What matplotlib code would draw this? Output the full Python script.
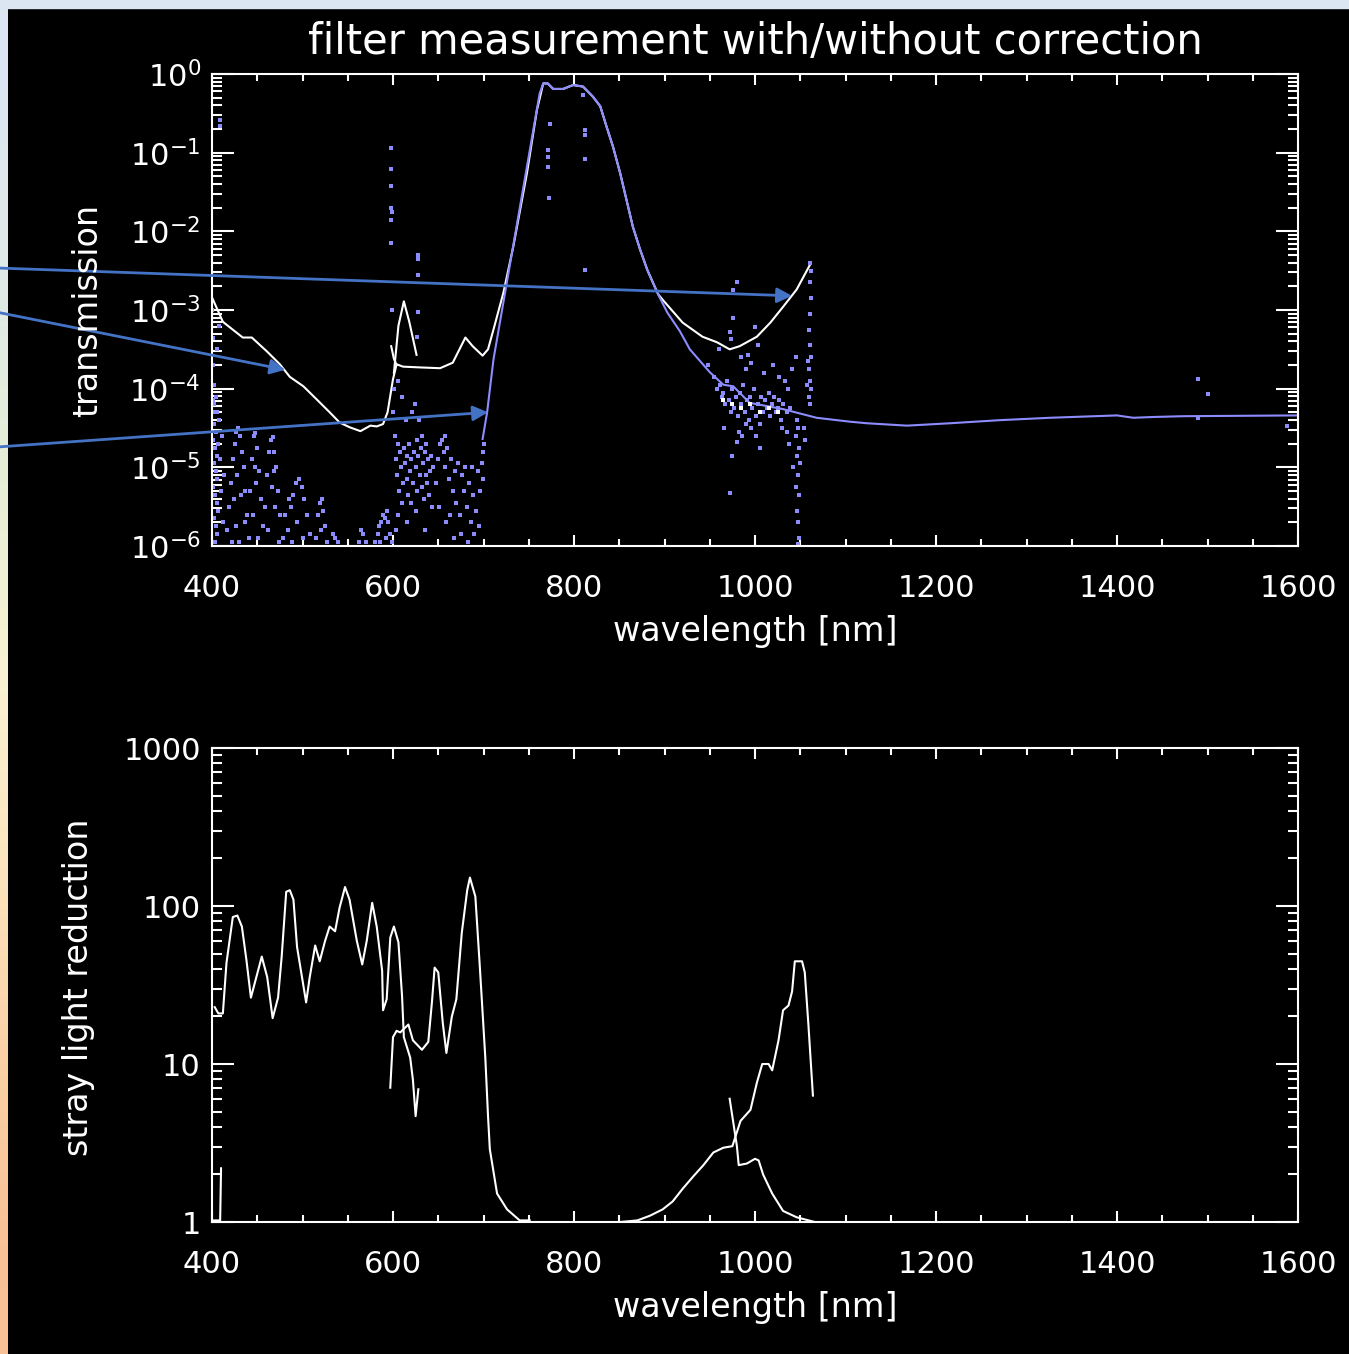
import numpy as np
import matplotlib
matplotlib.use("Agg")
import matplotlib.pyplot as plt
from matplotlib.ticker import MultipleLocator, LogLocator, NullFormatter, FixedLocator, FixedFormatter

plt.rcParams['font.family'] = ['DejaVu Sans']
plt.rcParams['mathtext.fontset'] = 'dejavusans'

# ---- top panel: transmission, log10 values ----
# measured (uncorrected) curve, white
white_nm = [400, 412, 434, 444, 461, 475, 486, 501, 516, 530, 541, 552, 564, 575, 582, 589,
            594, 600, 604, 611, 630, 652, 666, 680, 688, 699, 705, 711, 722, 733, 748, 759,
            766, 771, 777, 788, 799, 810, 821, 829, 836, 843, 851, 858, 865, 873, 881, 893,
            898, 920, 942, 958, 972, 983, 1002, 1017, 1031, 1046, 1061]
white_exp = [-2.84, -3.15, -3.35, -3.35, -3.53, -3.69, -3.85, -3.97, -4.14, -4.30, -4.43, -4.49,
             -4.54, -4.47, -4.48, -4.45, -4.30, -3.88, -3.69, -3.72, -3.73, -3.74, -3.67, -3.35,
             -3.46, -3.58, -3.50, -3.25, -2.78, -2.19, -1.26, -0.46, -0.12, -0.12, -0.19, -0.19,
             -0.14, -0.16, -0.29, -0.41, -0.67, -0.92, -1.26, -1.60, -1.94, -2.23, -2.49, -2.80,
             -2.87, -3.16, -3.34, -3.41, -3.50, -3.46, -3.34, -3.16, -2.96, -2.74, -2.42]
# short extra pieces of the white curve near 600 nm
white_b_nm = [598, 601, 604]
white_b_exp = [-3.46, -3.62, -3.70]
white_c_nm = [601, 606, 612, 618, 626]
white_c_exp = [-3.80, -3.20, -2.89, -3.15, -3.57]

# corrected curve, blue
blue_nm = [699, 704, 711, 762, 766, 771, 777, 788, 799, 810, 821, 829, 836, 843, 851, 858,
           865, 873, 881, 892, 903, 917, 928, 950, 965, 976, 994, 1031, 1068, 1105, 1124,
           1168, 1215, 1271, 1326, 1400, 1418, 1440, 1473, 1600]
blue_exp = [-4.64, -4.30, -3.63, -0.25, -0.12, -0.12, -0.19, -0.19, -0.14, -0.16, -0.29, -0.41,
            -0.67, -0.92, -1.26, -1.60, -1.94, -2.23, -2.49, -2.78, -3.03, -3.27, -3.50, -3.79,
            -3.95, -3.97, -4.18, -4.26, -4.37, -4.42, -4.44, -4.47, -4.44, -4.40, -4.37, -4.34,
            -4.37, -4.36, -4.35, -4.34]

# scattered corrected points (nm, log10 T)
noise_pts = [
    (400.5, -3.0), (401, -3.35), (401.5, -3.7), (402, -3.95), (401, -4.15), (403, -4.3),
    (402, -4.45), (404, -4.55), (401, -4.65), (403, -4.75), (405, -4.85), (402, -4.95),
    (404, -5.05), (406, -5.15), (401, -5.25), (403, -5.35), (405, -5.45), (407, -5.55),
    (402, -5.65), (404, -5.75), (406, -5.85), (403, -5.95), (408, -4.4), (409, -4.9),
    (410, -5.3), (411, -4.6), (412, -5.7), (413, -5.1), (409, -0.58), (409, -0.66),
    (408, -3.2), (406, -3.5), (404, -4.1), (406, -4.3), (402, -4.2), (407, -4.7),
    (417, -5.8), (419, -5.5), (421, -5.2), (423, -4.9), (425, -4.7), (427, -4.55),
    (429, -4.5), (431, -4.6), (433, -4.8), (435, -5.0), (437, -5.3), (439, -5.6),
    (441, -5.9), (424, -5.4), (428, -5.1), (432, -5.35), (426, -5.75), (430, -5.95),
    (436, -5.7), (422, -5.95),
    (442, -5.3), (444, -4.9), (446, -4.6), (448, -4.56), (450, -4.75), (452, -5.05),
    (454, -5.4), (456, -5.75), (445, -5.6), (449, -5.2), (451, -5.9), (447, -5.0),
    (459, -5.5), (461, -5.1), (463, -4.8), (465, -4.65), (467, -4.62), (469, -4.8),
    (471, -5.0), (473, -5.3), (475, -5.6), (462, -5.8), (466, -5.25), (470, -5.5),
    (474, -5.95), (468, -5.05),
    (478, -5.9), (481, -5.6), (484, -5.8), (487, -5.5), (490, -5.35), (493, -5.2),
    (496, -5.15), (499, -5.25), (502, -5.4), (505, -5.6), (508, -5.85), (488, -5.95),
    (494, -5.7), (500, -5.9), (485, -5.4),
    (515, -5.9), (517, -5.6), (519, -5.45), (521, -5.4), (523, -5.55), (525, -5.75),
    (527, -5.95), (534, -5.85), (536, -5.9), (539, -5.95), (520, -5.8),
    (562, -5.95), (565, -5.8), (567, -5.85), (570, -5.95),
    (580, -5.95), (583, -5.85), (585, -5.75), (587, -5.7), (589, -5.6), (591, -5.65),
    (593, -5.55), (595, -5.7), (597, -5.85), (599, -5.95), (586, -5.95), (592, -5.9),
    (598, -0.94), (598, -1.21), (598, -1.42), (598, -1.70), (599, -1.75), (598, -1.85),
    (598, -2.15), (599, -3.0),
    (628, -2.30), (628, -2.35), (628, -2.55), (628, -3.02), (627, -3.34),
    (600, -4.3), (601, -4.0), (602, -4.6), (603, -4.9), (604, -5.1), (605, -4.7),
    (606, -3.9), (607, -5.3), (608, -4.8), (609, -5.0), (610, -4.1), (611, -5.2),
    (612, -4.75), (613, -4.95), (614, -4.4), (615, -5.15), (616, -4.85), (617, -5.35),
    (618, -4.7), (619, -5.05), (620, -4.9), (621, -4.3), (622, -5.2), (623, -4.8),
    (624, -4.2), (625, -5.0), (626, -4.65), (627, -5.3), (628, -4.85), (629, -4.4),
    (630, -5.1), (631, -4.75), (632, -5.25), (633, -4.95), (634, -5.4), (635, -4.8),
    (636, -5.1), (637, -4.7), (638, -5.2), (639, -4.9), (640, -5.35), (641, -5.05),
    (642, -4.85), (643, -5.5), (644, -5.0), (605, -5.6), (615, -5.7), (625, -5.55),
    (635, -5.8), (620, -5.45), (610, -5.45), (632, -4.6), (603, -5.8),
    (648, -5.2), (650, -4.9), (652, -4.7), (654, -4.65), (656, -4.8), (658, -5.0),
    (660, -4.75), (662, -5.15), (664, -4.9), (666, -5.3), (668, -5.05), (670, -5.45),
    (672, -4.95), (674, -5.6), (676, -5.1), (678, -5.3), (680, -5.0), (682, -5.5),
    (684, -5.2), (686, -5.7), (688, -5.35), (690, -5.85), (692, -5.55), (694, -5.05),
    (696, -5.3), (698, -4.95), (699, -5.15), (651, -5.5), (659, -5.7), (667, -5.9),
    (657, -4.6), (663, -5.6), (675, -5.85), (683, -5.95), (687, -5.0), (695, -5.75),
    (699, -4.8), (700, -4.7),
    (773, -0.63), (771, -0.97), (771, -1.05), (771, -1.18), (772, -1.57),
    (810, -0.27), (812, -0.71), (812, -0.77), (812, -1.08), (812, -2.49),
    (955, -3.85), (958, -4.0), (961, -3.95), (963, -4.1), (965, -4.05), (967, -4.2),
    (969, -3.9), (971, -4.15), (973, -4.3), (975, -4.0), (977, -4.25), (979, -4.1),
    (981, -4.35), (983, -4.05), (985, -4.2), (987, -3.95), (989, -4.3), (991, -4.15),
    (993, -4.4), (995, -4.1), (997, -4.25), (999, -4.0), (1001, -4.35), (1003, -4.2),
    (1005, -4.45), (1007, -4.1), (1009, -4.3), (1011, -4.15), (1013, -4.25), (1015, -4.05),
    (1017, -4.35), (1019, -4.2), (1021, -4.1), (1023, -4.3), (1025, -4.25), (1027, -4.15),
    (1029, -4.4), (1031, -4.2), (1033, -3.9), (1035, -4.3), (1037, -4.0), (1039, -4.25),
    (972, -3.28), (976, -2.74), (980, -2.65), (976, -3.10), (974, -3.37), (1000, -3.21),
    (992, -3.57), (996, -3.67), (985, -3.6), (990, -3.75), (1003, -3.45), (1010, -3.8),
    (1020, -3.7), (1027, -3.85), (1041, -3.75), (1045, -3.6), (948, -3.7), (960, -3.5),
    (1061, -2.4), (1062, -2.5), (1061, -2.65), (1062, -2.85), (1061, -3.05), (1060, -3.25),
    (1061, -3.45), (1062, -3.6), (1060, -3.75), (1061, -3.9), (1062, -4.0), (1060, -4.1),
    (1061, -4.2), (1059, -3.65), (1058, -3.95),
    (1046, -4.4), (1048, -4.5), (1045, -4.6), (1049, -4.75), (1046, -4.85), (1050, -4.95),
    (1047, -5.1), (1045, -5.25), (1049, -5.35), (1046, -5.55), (1048, -5.7), (1049, -5.9),
    (1047, -5.98),
    (972, -5.32), (980, -4.68), (982, -4.55), (975, -4.85), (1001, -4.6), (1005, -4.75),
    (1035, -4.55), (1038, -4.7), (1030, -4.5), (1042, -5.0), (1054, -4.5), (1055, -4.65),
    (996, -4.5), (990, -4.45), (966, -4.5), (986, -4.6),
    (1489, -3.88), (1501, -4.07), (1588, -4.47), (1489, -4.37),
]
white_dots_nm = [965, 975, 985, 995, 1005, 1015, 1025]
white_dots_exp = [-4.15, -4.2, -4.25, -4.2, -4.3, -4.25, -4.3]

# arrows: tail in figure fraction, head on the data
arrow_tail_y = [0.802, 0.769, 0.670]
arrow_head_nm = [1041, 481, 705]
arrow_head_exp = [-2.82, -3.76, -4.30]

# ---- bottom panel: stray light reduction, log10 values ----
red_a_nm = [402, 409, 410]
red_a_exp = [0.01, 0.01, 0.34]
red_b_nm = [403, 407, 412, 416, 423, 428, 433, 438, 443, 455, 461, 467, 473, 477, 482, 486,
            490, 494, 504, 508, 514, 519, 525, 530, 536, 541, 547, 552, 560, 566, 571, 577,
            582, 588, 589, 593, 597, 601, 606, 610, 612, 619, 622, 625, 628]
red_b_exp = [1.36, 1.32, 1.32, 1.64, 1.93, 1.94, 1.87, 1.66, 1.42, 1.68, 1.55, 1.29, 1.42,
             1.68, 2.09, 2.10, 2.04, 1.74, 1.39, 1.55, 1.75, 1.65, 1.78, 1.87, 1.84, 1.99,
             2.12, 2.04, 1.78, 1.63, 1.78, 2.02, 1.87, 1.59, 1.34, 1.41, 1.80, 1.87, 1.77,
             1.43, 1.17, 1.04, 0.90, 0.67, 0.84]
red_c_nm = [597, 600, 604, 608, 617, 622, 632, 639, 643, 646, 650, 655, 659, 665, 670, 676,
            682, 685, 691, 696, 702, 705, 707, 715, 726, 740, 751]
red_c_exp = [0.85, 1.17, 1.21, 1.20, 1.25, 1.15, 1.09, 1.14, 1.39, 1.61, 1.58, 1.26, 1.07,
             1.30, 1.41, 1.83, 2.10, 2.18, 2.06, 1.61, 1.04, 0.67, 0.46, 0.18, 0.08, 0.01,
             0.01]
red_d_nm = [851, 870, 884, 898, 909, 920, 932, 943, 954, 965, 975, 984, 995, 1002, 1008, 1015,
            1019, 1026, 1031, 1037, 1041, 1044, 1052, 1055, 1059, 1064]
red_d_exp = [0.0, 0.01, 0.04, 0.08, 0.13, 0.21, 0.29, 0.36, 0.44, 0.47, 0.48, 0.64, 0.71,
             0.88, 1.00, 1.00, 0.96, 1.15, 1.34, 1.37, 1.46, 1.65, 1.65, 1.58, 1.25, 0.80]
red_e_nm = [972, 980, 982, 991, 1000, 1004, 1009, 1019, 1031, 1046, 1066]
red_e_exp = [0.78, 0.48, 0.36, 0.37, 0.40, 0.39, 0.30, 0.18, 0.07, 0.03, 0.0]

x_ticks = [400, 600, 800, 1000, 1200, 1400, 1600]
red_ticks = [1, 10, 100, 1000]
red_tick_labels = ['1', '10', '100', '1000']

WHITE = '#ffffff'
BLUE = '#8c8cff'
ARROW = '#4472c4'
W, H = 1349, 1354

fig = plt.figure(figsize=(W / 100, H / 100), dpi=100, facecolor='black')

# light frame round the black picture (top strip and gradient on the left)
strip = fig.add_axes([0, 0, 8 / W, 1])
grad_cols = np.array([[220, 230, 242], [224, 234, 230], [230, 238, 214],
                      [250, 242, 212], [252, 228, 190], [250, 208, 165], [248, 192, 150]]) / 255.0
strip.imshow(grad_cols[:, None, :], aspect='auto', interpolation='bilinear', extent=[0, 1, 0, 1])
strip.set_axis_off()
fig.add_artist(plt.Rectangle((0, 1 - 8 / H), 1, 8 / H, transform=fig.transFigure,
                             color=(220 / 255, 230 / 255, 242 / 255), zorder=0))


def style_axes(ax):
    ax.set_facecolor('black')
    for s in ax.spines.values():
        s.set_color(WHITE)
        s.set_linewidth(1.5)
    ax.set_xlim(400, 1600)
    ax.xaxis.set_major_locator(FixedLocator(x_ticks))
    ax.xaxis.set_minor_locator(MultipleLocator(50))
    ax.tick_params(which='both', direction='in', colors=WHITE, top=True, right=True,
                   labelsize=22, width=1.5)
    ax.tick_params(axis='x', which='major', length=8, pad=20)
    ax.tick_params(axis='x', which='minor', length=5)
    ax.tick_params(axis='y', which='major', length=16, pad=8)
    ax.tick_params(axis='y', which='minor', length=7)
    ax.yaxis.set_minor_locator(LogLocator(base=10, subs=np.arange(2, 10), numticks=20))
    ax.yaxis.set_minor_formatter(NullFormatter())


ax1 = fig.add_axes([212 / W, 1 - 546 / H, 1086 / W, 472 / H])
ax1.set_yscale('log')
style_axes(ax1)
ax1.set_ylim(1e-6, 1)
ax1.yaxis.set_major_locator(LogLocator(base=10, numticks=10))

ax1.plot(white_nm, 10 ** np.array(white_exp), color=WHITE, lw=1.5)
ax1.plot(white_b_nm, 10 ** np.array(white_b_exp), color=WHITE, lw=1.5)
ax1.plot(white_c_nm, 10 ** np.array(white_c_exp), color=WHITE, lw=1.5)
ax1.plot(blue_nm, 10 ** np.array(blue_exp), color=BLUE, lw=1.5)
noise = np.array(noise_pts)
ax1.plot(noise[:, 0], 10 ** noise[:, 1], 's', color=BLUE, ms=2.6, mew=0)
ax1.plot(white_dots_nm, 10 ** np.array(white_dots_exp), 's', color=WHITE, ms=2.2, mew=0)

for ty, hx, hy in zip(arrow_tail_y, arrow_head_nm, arrow_head_exp):
    ax1.annotate('', xy=(hx, 10 ** hy), xycoords='data',
                 xytext=(0, ty), textcoords='figure fraction',
                 arrowprops=dict(arrowstyle='-|>,head_length=0.9,head_width=0.45',
                                 color=ARROW, lw=2, shrinkA=0, shrinkB=0),
                 annotation_clip=False, zorder=10)

ax2 = fig.add_axes([212 / W, 1 - 1222 / H, 1086 / W, 474 / H])
ax2.set_yscale('log')
style_axes(ax2)
ax2.set_ylim(1, 1000)
ax2.yaxis.set_major_locator(FixedLocator(red_ticks))
ax2.yaxis.set_major_formatter(FixedFormatter(red_tick_labels))

for xs, ys in [(red_a_nm, red_a_exp), (red_b_nm, red_b_exp), (red_c_nm, red_c_exp),
               (red_d_nm, red_d_exp), (red_e_nm, red_e_exp)]:
    ax2.plot(xs, 10 ** np.array(ys), color=WHITE, lw=1.5, clip_on=True)

txt = dict(color=WHITE, fontsize=24, ha='center', va='center')
fig.text(755 / W, 1 - 42 / H, 'filter measurement with/without correction',
         color=WHITE, fontsize=30, ha='center', va='center')
fig.text(755 / W, 1 - 632 / H, 'wavelength [nm]', **txt)
fig.text(755 / W, 1 - 1307 / H, 'wavelength [nm]', **txt)
fig.text(88 / W, 1 - 310 / H, 'transmission', rotation=90, **txt)
fig.text(79 / W, 1 - 987 / H, 'stray light reduction', rotation=90, **txt)

fig.savefig('out.png', dpi=100, facecolor='black')
